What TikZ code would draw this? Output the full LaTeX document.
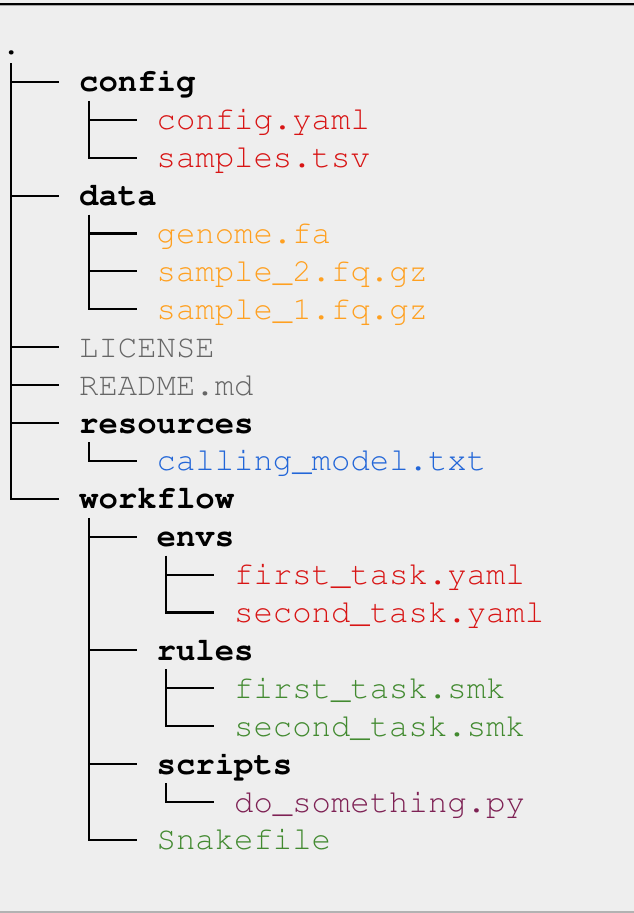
\documentclass[tikz,border=0pt]{standalone}
\usepackage[T1]{fontenc}
\usepackage{courier}
\usetikzlibrary{positioning}
\definecolor{bgcol}{HTML}{EEEEEE}
\definecolor{cfgred}{HTML}{D81414}
\definecolor{dataorange}{HTML}{FFA020}
\definecolor{docgray}{HTML}{666666}
\definecolor{resblue}{HTML}{2266D8}
\definecolor{smkgreen}{HTML}{428A30}
\definecolor{pypurple}{HTML}{7E2154}
\tikzset{
  entry/.style = {inner sep=0pt, anchor=base west,
                  font=\ttfamily\fontsize{32.3}{38}\selectfont},
  dir/.style   = {entry, font=\ttfamily\bfseries\fontsize{32.3}{38}\selectfont},
  file/.style  = {entry, text=#1},
  branch/.style = {line width=2.1pt, black}
}
\begin{document}
\begin{tikzpicture}[x=1pt,y=-1pt]
  \fill[bgcol] (0,0) rectangle (634,913);
  \useasboundingbox (0,0) rectangle (634,913);
  \draw[line width=2pt,black] (0,3.8) -- (634,3.8);
  \draw[line width=1pt,gray!70] (0,5.6) -- (634,5.6);
  \draw[line width=1.2pt,gray!60] (0,912) -- (634,912);

  % rows: baseline 54 + 37.9*i, columns 1.5 + 77.5*level
  \node[entry] (root) at (1.5,54){.};
  \node[dir] (config) at (79,91.9){config};
  \node[file=cfgred] (cfgyaml) at (156.5,129.8){config.yaml};
  \node[file=cfgred] (samples) at (156.5,167.7){samples.tsv};
  \node[dir] (data) at (79,205.6){data};
  \node[file=dataorange] (genome) at (156.5,243.5){genome.fa};
  \node[file=dataorange] (fqtwo) at (156.5,281.4){sample\_2.fq.gz};
  \node[file=dataorange] (fqone) at (156.5,319.3){sample\_1.fq.gz};
  \node[file=docgray] (license) at (79,357.2){LICENSE};
  \node[file=docgray] (readme) at (79,395.1){README.md};
  \node[dir] (res) at (79,433){resources};
  \node[file=resblue] (model) at (156.5,470.9){calling\_model.txt};
  \node[dir] (wflow) at (79,508.8){workflow};
  \node[dir] (envs) at (156.5,546.7){envs};
  \node[file=cfgred] (envone) at (234,584.6){first\_task.yaml};
  \node[file=cfgred] (envtwo) at (234,622.5){second\_task.yaml};
  \node[dir] (rules) at (156.5,660.4){rules};
  \node[file=smkgreen] (smkone) at (234,698.3){first\_task.smk};
  \node[file=smkgreen] (smktwo) at (234,736.2){second\_task.smk};
  \node[dir] (scripts) at (156.5,774.1){scripts};
  \node[file=pypurple] (dosome) at (234,812){do\_something.py};
  \node[file=smkgreen] (snake) at (156.5,849.9){Snakefile};

  % tree lines
  \draw[branch] ([shift={(9.7,9)}]root.base west) |- ([shift={(-19.8,-10)}]config.base west)
    ([shift={(9.7,9)}]root.base west) |- ([shift={(-19.8,-10)}]data.base west)
    ([shift={(9.7,9)}]root.base west) |- ([shift={(-19.8,-10)}]license.base west)
    ([shift={(9.7,9)}]root.base west) |- ([shift={(-19.8,-10)}]readme.base west)
    ([shift={(9.7,9)}]root.base west) |- ([shift={(-19.8,-10)}]res.base west)
    ([shift={(9.7,9)}]root.base west) |- ([shift={(-19.8,-10)}]wflow.base west);
  \draw[branch] ([shift={(9.7,9)}]config.base west) |- ([shift={(-19.8,-10)}]cfgyaml.base west)
    ([shift={(9.7,9)}]config.base west) |- ([shift={(-19.8,-10)}]samples.base west);
  \draw[branch] ([shift={(9.7,9)}]data.base west) |- ([shift={(-19.8,-10)}]genome.base west)
    ([shift={(9.7,9)}]data.base west) |- ([shift={(-19.8,-10)}]fqtwo.base west)
    ([shift={(9.7,9)}]data.base west) |- ([shift={(-19.8,-10)}]fqone.base west);
  \draw[branch] ([shift={(9.7,9)}]res.base west) |- ([shift={(-19.8,-10)}]model.base west);
  \draw[branch] ([shift={(9.7,9)}]wflow.base west) |- ([shift={(-19.8,-10)}]envs.base west)
    ([shift={(9.7,9)}]wflow.base west) |- ([shift={(-19.8,-10)}]rules.base west)
    ([shift={(9.7,9)}]wflow.base west) |- ([shift={(-19.8,-10)}]scripts.base west)
    ([shift={(9.7,9)}]wflow.base west) |- ([shift={(-19.8,-10)}]snake.base west);
  \draw[branch] ([shift={(9.7,9)}]envs.base west) |- ([shift={(-19.8,-10)}]envone.base west)
    ([shift={(9.7,9)}]envs.base west) |- ([shift={(-19.8,-10)}]envtwo.base west);
  \draw[branch] ([shift={(9.7,9)}]rules.base west) |- ([shift={(-19.8,-10)}]smkone.base west)
    ([shift={(9.7,9)}]rules.base west) |- ([shift={(-19.8,-10)}]smktwo.base west);
  \draw[branch] ([shift={(9.7,9)}]scripts.base west) |- ([shift={(-19.8,-10)}]dosome.base west);
\end{tikzpicture}
\end{document}
